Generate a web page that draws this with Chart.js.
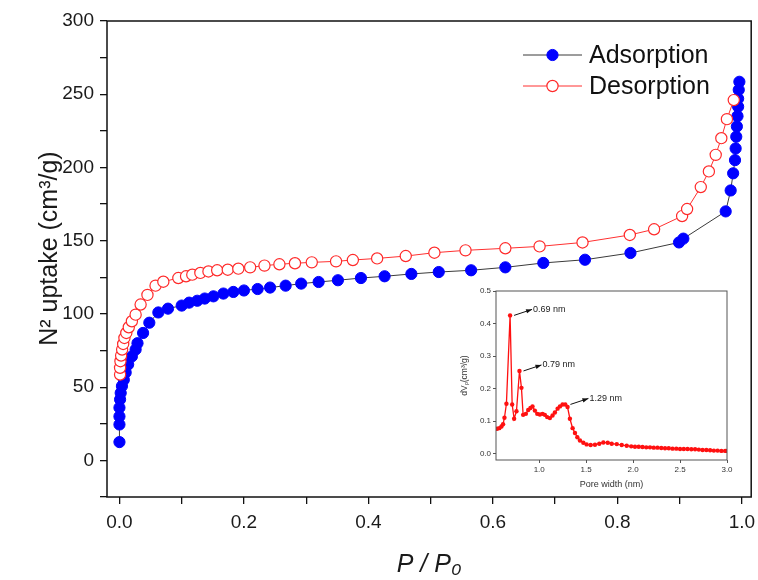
<!DOCTYPE html>
<html>
<head>
<meta charset="utf-8">
<script src="https://cdn.jsdelivr.net/npm/chart.js@4.4.0/dist/chart.umd.min.js"></script>
<style>
  html, body { margin: 0; padding: 0; background: #fff; }
  #wrap { position: relative; width: 758px; height: 580px; }
  #main { position: absolute; left: 0; top: 0; }
  #inset { position: absolute; left: 455px; top: 283px; }
</style>
</head>
<body>
<div id="wrap">
  <canvas id="main" width="758" height="580"></canvas>
  <canvas id="inset" width="297" height="210"></canvas>
</div>
<script>
// isotherm, adsorption branch (P/P0, cm3/g)
var adsP = [0, 0, 0, 0, 0.001, 0.002, 0.004, 0.007, 0.010, 0.014, 0.020, 0.026, 0.029, 0.038, 0.048,
  0.0625, 0.078, 0.100, 0.112, 0.125, 0.137, 0.151, 0.167, 0.183, 0.200, 0.222, 0.242, 0.267, 0.292,
  0.320, 0.351, 0.388, 0.426, 0.469, 0.513, 0.565, 0.620, 0.681, 0.748, 0.821, 0.899, 0.906, 0.974,
  0.982, 0.986, 0.989, 0.990, 0.991, 0.992, 0.993, 0.994, 0.994, 0.995, 0.996];
var adsV = [12.5, 24.5, 30, 36, 41.6, 46, 50.7, 55, 60, 65.5, 71, 75.7, 80, 87, 94,
  101, 103.6, 105.7, 107.7, 109, 110.5, 112, 113.9, 115, 116, 117, 118, 119.3, 120.7,
  121.8, 123, 124.5, 125.7, 127.3, 128.6, 129.8, 131.8, 134.8, 137, 141.6, 148.8, 151.4, 170,
  184.3, 196, 205, 213, 221, 228, 235, 241.5, 247, 253, 258.5];

// desorption branch
var desP = [0.001, 0.001, 0.0016, 0.0027, 0.0043, 0.006, 0.008, 0.011, 0.015, 0.020, 0.026, 0.034,
  0.045, 0.058, 0.0705, 0.0946, 0.107, 0.117, 0.130, 0.143, 0.157, 0.174, 0.191, 0.210, 0.233,
  0.257, 0.282, 0.309, 0.348, 0.375, 0.414, 0.460, 0.506, 0.556, 0.620, 0.675, 0.744, 0.820,
  0.859, 0.904, 0.912, 0.934, 0.947, 0.958, 0.967, 0.976, 0.987];
var desV = [58.6, 63.2, 67.7, 71.6, 75.7, 79.5, 83.6, 87, 90.9, 95, 99.5, 106.4,
  113, 119.3, 122, 124.5, 125.7, 126.8, 128, 129, 129.8, 130.2, 130.9, 131.8, 133,
  133.9, 134.6, 135.2, 135.9, 136.8, 137.9, 139.5, 141.8, 143.4, 144.8, 146.1, 148.8, 153.9,
  157.8, 166.8, 171.6, 186.6, 197.3, 208.6, 220, 233, 246];

// inset: pore size distribution
var poreW = [0.552, 0.575, 0.598, 0.615, 0.630, 0.651, 0.690, 0.712, 0.733, 0.758, 0.790, 0.811,
  0.829, 0.858, 0.883, 0.907, 0.929, 0.954, 0.979, 1.007, 1.036, 1.060, 1.085, 1.114, 1.142,
  1.167, 1.196, 1.221, 1.249, 1.278, 1.302, 1.327, 1.356, 1.381, 1.406, 1.434, 1.470, 1.505,
  1.548, 1.594, 1.640, 1.683, 1.730, 1.772, 1.826, 1.879, 1.932, 1.980, 2.02, 2.06, 2.10, 2.14,
  2.18, 2.22, 2.26, 2.30, 2.34, 2.38, 2.42, 2.46, 2.50, 2.54, 2.58, 2.62, 2.66, 2.70, 2.74,
  2.78, 2.82, 2.86, 2.90, 2.94, 2.98, 3.00];
var poreDV = [0.076, 0.078, 0.083, 0.090, 0.110, 0.153, 0.425, 0.151, 0.107, 0.130, 0.254, 0.202,
  0.119, 0.122, 0.134, 0.140, 0.145, 0.132, 0.122, 0.120, 0.122, 0.119, 0.112, 0.109, 0.117,
  0.126, 0.138, 0.145, 0.151, 0.151, 0.143, 0.107, 0.078, 0.063, 0.050, 0.040, 0.033, 0.028,
  0.026, 0.027, 0.030, 0.034, 0.033, 0.030, 0.029, 0.026, 0.024, 0.022, 0.021, 0.021, 0.020, 0.019,
  0.019, 0.018, 0.018, 0.017, 0.016, 0.016, 0.015, 0.015, 0.014, 0.014, 0.014, 0.013, 0.013, 0.012, 0.011,
  0.011, 0.010, 0.009, 0.009, 0.008, 0.008, 0.008];

var peakW = [0.69, 0.79, 1.29];
var peakDV = [0.425, 0.254, 0.151];
var peakText = ['0.69 nm', '0.79 nm', '1.29 nm'];

var seriesNames = ['Adsorption', 'Desorption'];

Chart.defaults.font.family = 'Arial, "Liberation Sans", sans-serif';
Chart.defaults.color = '#1a1a1a';

function pts(xs, ys) {
  return xs.map(function (x, i) { return { x: x, y: ys[i] }; });
}

// box round the plot area
var framePlugin = {
  id: 'frame',
  afterDatasetsDraw: function (chart, args, opts) {
    var a = chart.chartArea, ctx = chart.ctx;
    ctx.save();
    ctx.strokeStyle = opts.color;
    ctx.lineWidth = opts.width;
    ctx.strokeRect(a.left, a.top, a.right - a.left, a.bottom - a.top);
    ctx.restore();
  }
};

// origin-like legend: line with marker, then name
var lineLegend = {
  id: 'lineLegend',
  afterDraw: function (chart, args, opts) {
    var ctx = chart.ctx;
    ctx.save();
    ctx.font = opts.size + 'px ' + Chart.defaults.font.family;
    ctx.textBaseline = 'middle';
    opts.order.forEach(function (di, row) {
      var ds = chart.data.datasets[di];
      var y = opts.y + row * opts.rowGap;
      ctx.strokeStyle = ds.borderColor;
      ctx.lineWidth = 1;
      ctx.beginPath();
      ctx.moveTo(opts.x, y);
      ctx.lineTo(opts.x + opts.lineLen, y);
      ctx.stroke();
      ctx.beginPath();
      ctx.arc(opts.x + opts.lineLen / 2, y, ds.pointRadius, 0, Math.PI * 2);
      ctx.fillStyle = ds.pointBackgroundColor;
      ctx.fill();
      ctx.lineWidth = ds.pointBorderWidth;
      ctx.strokeStyle = ds.pointBorderColor;
      ctx.stroke();
      ctx.fillStyle = '#111';
      ctx.fillText(ds.label, opts.x + opts.lineLen + 7, y + 1);
    });
    ctx.restore();
  }
};

new Chart(document.getElementById('main'), {
  type: 'scatter',
  data: {
    datasets: [{
      label: seriesNames[0],
      data: pts(adsP, adsV),
      showLine: true,
      borderColor: '#3a3a3a',
      borderWidth: 1,
      pointRadius: 5.6,
      pointBackgroundColor: '#0000ff',
      pointBorderColor: '#0000ff',
      pointBorderWidth: 1,
      order: 2
    }, {
      label: seriesNames[1],
      data: pts(desP, desV),
      showLine: true,
      borderColor: '#ff3030',
      borderWidth: 1,
      pointRadius: 5.6,
      pointBackgroundColor: '#ffffff',
      pointBorderColor: '#ff2a2a',
      pointBorderWidth: 1.2,
      order: 1
    }]
  },
  options: {
    responsive: false,
    animation: false,
    layout: { padding: { top: 21, right: 6, left: 0, bottom: 0 } },
    plugins: {
      legend: { display: false },
      tooltip: { enabled: false },
      frame: { color: '#111', width: 1.5 },
      lineLegend: { x: 523, y: 55, rowGap: 31, lineLen: 59, size: 25, order: [0, 1] }
    },
    scales: {
      x: {
        type: 'linear',
        min: -0.02,
        max: 1.015,
        afterFit: function (s) { s.height = 83; s.paddingLeft = 0; s.paddingRight = 0; },
        grid: { drawOnChartArea: false, tickLength: 7, color: '#111', lineWidth: 1.3 },
        border: { display: false },
        ticks: {
          stepSize: 0.1,
          includeBounds: false,
          autoSkip: false,
          maxRotation: 0,
          padding: 7,
          font: { size: 19 },
          callback: function (v) {
            var k = Math.round(v * 10);
            return k % 2 === 0 ? (k / 10).toFixed(1) : '';
          }
        },
        title: {
          display: true,
          text: 'P / P\u2080',
          font: { size: 25, style: 'italic' },
          padding: { top: 0, bottom: 0 }
        }
      },
      y: {
        min: -25,
        max: 300,
        afterFit: function (s) { s.width = 107; },
        grid: { drawOnChartArea: false, tickLength: 7, color: '#111', lineWidth: 1.3 },
        border: { display: false },
        ticks: {
          stepSize: 25,
          includeBounds: false,
          autoSkip: false,
          padding: 6,
          font: { size: 19 },
          callback: function (v) { return (v >= 0 && v % 50 === 0) ? String(v) : ''; }
        },
        title: {
          display: true,
          // leading spaces lift the centred title a little, as in the figure
          text: '   N\u00b2 uptake (cm\u00b3/g)',
          font: { size: 25 },
          padding: { top: 35, bottom: 0 }
        }
      }
    }
  },
  plugins: [framePlugin, lineLegend]
});

// arrows + labels at the three peaks of the inset
var peakLabels = {
  id: 'peakLabels',
  afterDatasetsDraw: function (chart) {
    var ctx = chart.ctx, xs = chart.scales.x, ys = chart.scales.y;
    ctx.save();
    ctx.font = '9px ' + Chart.defaults.font.family;
    ctx.textBaseline = 'middle';
    ctx.fillStyle = '#222';
    ctx.strokeStyle = '#111';
    ctx.lineWidth = 1;
    peakW.forEach(function (w, i) {
      var px = xs.getPixelForValue(w), py = ys.getPixelForValue(peakDV[i]);
      var x0 = px + 4, y0 = py, x1 = px + 22, y1 = py - 6;
      ctx.beginPath();
      ctx.moveTo(x0, y0);
      ctx.lineTo(x1, y1);
      ctx.stroke();
      var ang = Math.atan2(y1 - y0, x1 - x0);
      ctx.beginPath();
      ctx.moveTo(x1, y1);
      ctx.lineTo(x1 - 6 * Math.cos(ang) + 2.2 * Math.sin(ang), y1 - 6 * Math.sin(ang) - 2.2 * Math.cos(ang));
      ctx.lineTo(x1 - 6 * Math.cos(ang) - 2.2 * Math.sin(ang), y1 - 6 * Math.sin(ang) + 2.2 * Math.cos(ang));
      ctx.closePath();
      ctx.fillStyle = '#111';
      ctx.fill();
      ctx.fillStyle = '#222';
      ctx.fillText(peakText[i], x1 + 1, y1);
    });
    ctx.restore();
  }
};

new Chart(document.getElementById('inset'), {
  type: 'scatter',
  data: {
    datasets: [{
      data: pts(poreW, poreDV),
      showLine: true,
      borderColor: '#ff1010',
      borderWidth: 1.3,
      pointRadius: 2.2,
      pointBackgroundColor: '#ff1010',
      pointBorderColor: '#ff1010',
      pointBorderWidth: 0
    }]
  },
  options: {
    responsive: false,
    animation: false,
    layout: { padding: { top: 8, right: 25, left: 0, bottom: 0 } },
    plugins: {
      legend: { display: false },
      tooltip: { enabled: false },
      frame: { color: '#555', width: 1 }
    },
    scales: {
      x: {
        type: 'linear',
        min: 0.54,
        max: 3.0,
        afterFit: function (s) { s.height = 33; s.paddingLeft = 0; s.paddingRight = 0; },
        grid: { drawOnChartArea: false, tickLength: 3, color: '#555' },
        border: { display: false },
        ticks: {
          stepSize: 0.5,
          includeBounds: false,
          maxRotation: 0,
          padding: 2,
          color: '#333',
          font: { size: 8 },
          callback: function (v) { return v.toFixed(1); }
        },
        title: {
          display: true,
          text: 'Pore width (nm)',
          color: '#333',
          font: { size: 9 },
          padding: { top: 0, bottom: 3 }
        }
      },
      y: {
        min: -0.02,
        max: 0.5,
        afterFit: function (s) { s.width = 41; },
        grid: { drawOnChartArea: false, tickLength: 3, color: '#555' },
        border: { display: false },
        ticks: {
          stepSize: 0.1,
          includeBounds: false,
          padding: 2,
          color: '#333',
          font: { size: 8 },
          callback: function (v) { return v.toFixed(1); }
        },
        title: {
          display: true,
          text: 'dV\u209a(cm\u00b3/g)',
          color: '#333',
          font: { size: 8.5 },
          padding: { top: 5, bottom: 0 }
        }
      }
    }
  },
  plugins: [framePlugin, peakLabels]
});
</script>
</body>
</html>
